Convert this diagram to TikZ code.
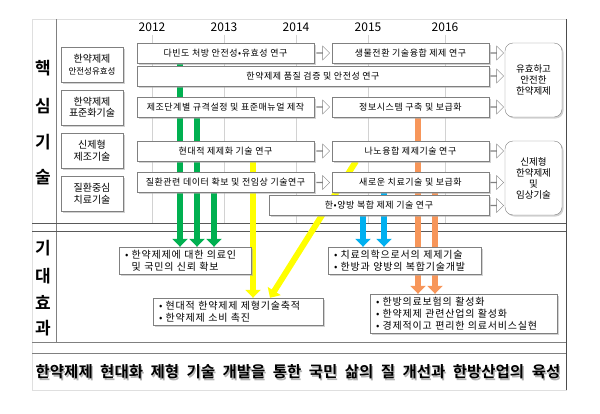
\documentclass[tikz,border=0pt]{standalone}
\usepackage{fontspec}
\setmainfont{Noto Sans CJK KR}[BoldFont=Noto Sans CJK KR Bold]
\usetikzlibrary{arrows.meta}
\usetikzlibrary{calc}
\usetikzlibrary{shadows}
\usetikzlibrary{shapes.arrows}
\pgfdeclarelayer{bg}
\pgfsetlayers{bg,main}
\definecolor{grn}{RGB}{0,176,80}
\definecolor{ylw}{RGB}{255,255,0}
\definecolor{blu}{RGB}{0,176,240}
\definecolor{org}{RGB}{247,150,90}
\newcommand\headfont{\fontsize{15.5}{15.5}\selectfont\bfseries\spaceskip=7.5pt\relax}

\begin{document}
\begin{tikzpicture}[x=1pt,y=-1pt,
		box/.style={draw=gray,fill=white,inner sep=0pt,drop shadow={shadow xshift=1.5pt,shadow yshift=-1.5pt,fill=gray!70}},
		task/.style={box,minimum height=20pt,font=\fontsize{9}{11}\selectfont\addfontfeatures{LetterSpace=6}},
		rowlab/.style={box,minimum width=62pt,minimum height=35pt,align=center,font=\fontsize{10}{11.5}\selectfont},
		goal/.style={box,rounded corners=8pt,minimum width=57pt,minimum height=74pt,align=center,font=\fontsize{9.5}{11}\selectfont},
		effect/.style={box,align=left,inner xsep=6pt,font=\fontsize{10}{12}\selectfont\addfontfeatures{LetterSpace=8}},
		hollow/.style={single arrow,draw=gray,fill=white,minimum height=13pt,minimum width=14pt,single arrow head extend=3.5pt,inner sep=0pt},
		bar/.style={line width=6pt,-{Triangle[length=8pt,width=15pt]}},
		biglab/.style={font=\fontsize{17}{17}\selectfont\bfseries},
		year/.style={font=\fontsize{12}{12}\selectfont},
		headline/.style={font=\headfont}]
	\useasboundingbox (0,0) rectangle (600,413);

	\node [rowlab] (r1) at (92,64.5) {한약제제\\{\fontsize{8.5}{10}\selectfont 안전성유효성}};
	\node [rowlab] (r2) at (92,107.5) {한약제제\\표준화기술};
	\node [rowlab] (r3) at (92,150.5) {신제형\\제조기술};
	\node [rowlab] (r4) at (92,193.5) {질환중심\\치료기술};

	\node [task,minimum width=177pt] (t1a) at (225.5,53) {다빈도 처방 안전성•유효성 연구};
	\node [task,minimum width=157pt] (t1b) at (410.5,53) {생물전환 기술융합 제제 연구};
	\node [task,minimum width=352pt] (t2) at (313,76) {한약제제 품질 검증 및 안전성 연구};
	\node [task,minimum width=177pt] (t3a) at (225.5,107) {제조단계별 규격설정 및 표준매뉴얼 제작};
	\node [task,minimum width=157pt] (t3b) at (410.5,107) {정보시스템 구축 및 보급화};
	\node [task,minimum width=177pt] (t4a) at (225.5,151) {현대적 제제화 기술 연구};
	\node [task,minimum width=157pt] (t4b) at (410.5,151) {나노융합 제제기술 연구};
	\node [task,minimum width=177pt] (t5a) at (225.5,182.5) {질환관련 데이터 확보 및 전임상 기술연구};
	\node [task,minimum width=157pt] (t5b) at (410.5,182.5) {새로운 치료기술 및 보급화};
	\node [task,minimum width=220pt] (t6) at (379,205.5) {한•양방 복합 제제 기술 연구};

	\node [goal] (g1) at (533.5,80) {유효하고\\안전한\\한약제제};
	\node [goal] (g2) at (533.5,178) {신제형\\한약제제\\및\\임상기술};

	\foreach \from/\to [count=\i] in {t1a/t1b, t3a/t3b, t4a/t4b, t5a/t5b}
		\node [hollow] (h\i) at ($(\from.east)!0.5!(\to.west)$) {};
	\foreach \from/\to [count=\i] in {t1b/g1, t2/g1, t3b/g1, t4b/g2, t5b/g2, t6/g2}
		\node [hollow] (k\i) at ($(\from.east)!0.5!(\from.east -| \to.west)$) {};

	\node [effect,text width=120pt,minimum height=27pt] (e1) at (185,260.5) {• 한약제제에 대한 의료인\\\phantom{• }및 국민의 신뢰 확보};
	\node [effect,text width=158pt,minimum height=27pt] (e2) at (238,311.5) {• 현대적 한약제제 제형기술축적\\• 한약제제 소비 촉진};
	\node [effect,text width=141pt,minimum height=27pt] (e3) at (404.5,260.5) {• 치료의학으로서의 제제기술\\• 한방과 양방의 복합기술개발};
	\node [effect,text width=175pt,minimum height=39pt] (e4) at (463.5,313.5) {• 한방의료보험의 활성화\\• 한약제제 관련산업의 활성화\\• 경제적이고 편리한 의료서비스실현};

	\foreach \ch/\yy in {핵/68, 심/106, 기/142, 술/177, 기/248, 대/276, 효/302, 과/328}
		\node [biglab] (b\yy) at (43,\yy) {\ch};

	\foreach \yr/\xx in {2012/152, 2013/224, 2014/296, 2015/368, 2016/445} {
		\node [year] (y\yr) at (\xx,27) {\yr};
		\begin{pgfonlayer}{bg}
			\draw [gray!35] (y\yr.south) -- (y\yr.south |- 0,223);
		\end{pgfonlayer}
	}

	\node [headline,text=gray!60] (shade) at (299.3,373.3) {한약제제 현대화 제형 기술 개발을 통한 국민 삶의 질 개선과 한방산업의 육성};
	\node [headline] (title) at (298,372) {한약제제 현대화 제형 기술 개발을 통한 국민 삶의 질 개선과 한방산업의 육성};

	\begin{pgfonlayer}{bg}
		\draw [gray!25] (32,19) rectangle (566,390);
		\draw [gray!60!black,line width=0.8pt] (566,19) -- (566,390);
		\draw [gray] (56,19) -- (56,342);
		\foreach \yy in {223, 231}
			\draw [gray!70!black,line width=0.7pt] (32,\yy) -- (566,\yy);
		\foreach \yy in {342, 353}
			\draw [gray] (32,\yy) -- (566,\yy);
		\foreach \from/\xx in {t1a/180, t3a/197, t5a/214}
			\draw [bar,grn] (\from.south -| \xx,0) -- (e1.north -| \xx,0);
		\draw [bar,ylw] (t4a.south -| 253,0) -- (e2.north -| 253,0);
		\draw [bar,ylw] (t4b.south -| 356,0) -- (e2.north -| 270,0);
		\foreach \from/\xx in {t6/363, t5b/384}
			\draw [bar,blu] (\from.south -| \xx,0) -- (e3.north -| \xx,0);
		\foreach \from/\xx in {t3b/418, t5b/435}
			\draw [bar,org] (\from.south -| \xx,0) -- (e4.north -| \xx,0);
	\end{pgfonlayer}
\end{tikzpicture}
\end{document}
